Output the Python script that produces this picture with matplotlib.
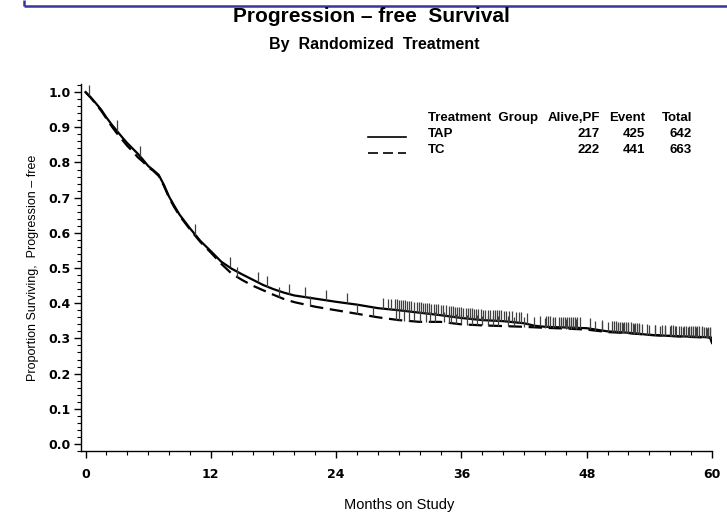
import matplotlib
matplotlib.use("Agg")
import matplotlib.pyplot as plt
from matplotlib.lines import Line2D
from matplotlib.ticker import MultipleLocator

# ---- data ----
tap_months = [0, 0.5, 1, 1.5, 2, 2.5, 3, 3.5, 4, 4.5, 5, 5.5, 6, 6.5, 7, 7.5, 8, 8.5, 9, 10, 11, 12,
              13, 14, 15, 16, 17, 18, 19, 20, 22, 24, 26, 28, 30, 32, 34, 36, 38, 40,
              42, 43, 44, 46, 48, 50, 52, 54, 56, 58, 59.8, 60]
tap_surv = [1.00, 0.985, 0.968, 0.95, 0.928, 0.908, 0.89, 0.872, 0.855, 0.84, 0.825, 0.808, 0.79,
            0.778, 0.765, 0.737, 0.703, 0.677, 0.652, 0.613, 0.577, 0.548,
            0.518, 0.498, 0.482, 0.467, 0.452, 0.44, 0.43, 0.422, 0.413, 0.404, 0.396, 0.386,
            0.38, 0.373, 0.366, 0.358, 0.352, 0.349, 0.343, 0.336, 0.333, 0.331, 0.329, 0.32,
            0.316, 0.31, 0.307, 0.305, 0.303, 0.287]

tc_months = [0, 0.5, 1, 1.5, 2, 2.5, 3, 3.5, 4, 4.5, 5, 5.5, 6, 6.5, 7, 7.5, 8, 8.5, 9, 10, 11, 12,
             13, 14, 15, 16, 17, 18, 19, 20, 22, 24, 26, 28, 30, 32, 34, 36, 38, 40,
             42, 44, 46, 48, 50, 52, 54, 56, 58, 60]
tc_surv = [1.00, 0.984, 0.966, 0.947, 0.925, 0.903, 0.883, 0.865, 0.847, 0.832, 0.815, 0.802, 0.787,
           0.776, 0.762, 0.734, 0.700, 0.673, 0.649, 0.61, 0.574, 0.544,
           0.512, 0.484, 0.466, 0.45, 0.437, 0.424, 0.412, 0.403, 0.39, 0.38, 0.37, 0.36,
           0.352, 0.347, 0.347, 0.34, 0.337, 0.335, 0.333, 0.33, 0.328, 0.325, 0.318,
           0.315, 0.31, 0.307, 0.304, 0.302]

tap_censor = [0.3, 3.0, 5.2, 10.5, 13.8, 16.5, 17.4, 19.5, 21.0, 23.0, 25.0, 28.5,
              29.0, 29.3, 29.6, 29.8, 30.0, 30.2, 30.4, 30.6, 30.8, 31.0, 31.2, 31.5, 31.7,
              31.9, 32.1, 32.3, 32.5, 32.7, 32.9, 33.1, 33.4, 33.6, 33.8, 34.0, 34.2, 34.5,
              34.8, 35.0, 35.2, 35.4, 35.6, 35.8, 36.0, 36.2, 36.4, 36.6, 36.8, 37.0, 37.2,
              37.4, 37.6, 37.9, 38.1, 38.3, 38.5, 38.7, 39.0, 39.2, 39.4, 39.6, 39.8, 40.1,
              40.3, 40.6, 40.8, 41.2, 41.5, 41.7, 42.3, 43.5, 44.1, 44.3, 44.5, 44.8, 45.0,
              45.3, 45.5, 45.7, 45.9, 46.1, 46.3, 46.5, 46.7, 46.9, 47.1, 47.4, 48.3, 49.5,
              50.4, 50.6, 50.8, 51.0, 51.2, 51.4, 51.6, 51.8, 52.0, 52.2, 52.4, 52.6, 52.8,
              53.0, 53.3, 53.8, 54.5, 55.2, 55.5, 56.1, 56.3, 56.6, 56.8, 57.0, 57.3, 57.5,
              57.8, 58.0, 58.2, 58.4, 58.6, 58.8, 59.0, 59.2, 59.4, 59.6, 59.8]
tc_censor = [14.5, 18.5, 21.5, 26.0, 27.5, 29.7, 30.0, 30.5, 31.0, 31.5, 32.0, 32.6, 33.0,
             33.5, 34.3, 34.8, 35.0, 35.5, 36.0, 36.5, 37.0, 37.5, 38.0, 38.5, 39.0, 39.5,
             40.5, 41.0, 42.0, 43.0, 44.0, 44.8, 45.5, 46.0, 46.5, 47.0, 48.8, 49.5, 50.0,
             51.0, 51.5, 52.0, 52.5, 53.0, 54.0, 54.5, 55.0, 55.5, 56.0, 56.5, 57.2, 57.7,
             58.0, 58.5, 59.0, 59.5, 59.8]

groups = ["TAP", "TC"]
alive_pf = [217, 222]
events = [425, 441]
totals = [642, 663]

x_ticks = [0, 12, 24, 36, 48, 60]
y_ticks = [0.0, 0.1, 0.2, 0.3, 0.4, 0.5, 0.6, 0.7, 0.8, 0.9, 1.0]

# ---- figure ----
W, H = 727, 515
fig = plt.figure(figsize=(W / 100, H / 100), dpi=100)
fig.patch.set_facecolor("white")

def fx(px):
    return px / W

def fy(py):
    return 1 - py / H

ax_left, ax_right, ax_top, ax_bottom = 80.5, 712, 84, 451
ax = fig.add_axes([fx(ax_left), fy(ax_bottom), fx(ax_right - ax_left), (ax_bottom - ax_top) / H])
ax.set_xlim(-0.48, 60.0)
ax.set_ylim(-0.02, 1.023)

ax.plot(tap_months, tap_surv, color="black", lw=1.6, solid_joinstyle="miter")
ax.plot(tc_months, tc_surv, color="black", lw=1.6, linestyle=(0, (6, 3)))

def interp(xs, ys, x):
    for i in range(len(xs) - 1):
        if xs[i] <= x <= xs[i + 1]:
            t = (x - xs[i]) / (xs[i + 1] - xs[i]) if xs[i + 1] != xs[i] else 0
            return ys[i] + t * (ys[i + 1] - ys[i])
    return ys[-1]

tap_c_y = [interp(tap_months, tap_surv, c) for c in tap_censor]
tc_c_y = [interp(tc_months, tc_surv, c) for c in tc_censor]
ax.vlines(tap_censor, tap_c_y, [v + 0.03 for v in tap_c_y], color="#404040", lw=0.9)
ax.vlines(tc_censor, tc_c_y, [v + 0.028 for v in tc_c_y], color="#404040", lw=0.9)

for s in ["top", "right"]:
    ax.spines[s].set_visible(False)
ax.spines["left"].set_linewidth(1.0)
ax.spines["bottom"].set_linewidth(1.0)

ax.set_xticks(x_ticks)
ax.set_xticklabels([str(v) for v in x_ticks])
ax.xaxis.set_minor_locator(MultipleLocator(2))
ax.set_yticks(y_ticks)
ax.set_yticklabels([f"{v:.1f}" for v in y_ticks])
ax.yaxis.set_minor_locator(MultipleLocator(0.02))
ax.tick_params(axis="both", which="major", length=5, width=1, direction="out", color="black")
ax.tick_params(axis="both", which="minor", length=3, width=0.8, direction="out", color="black")
ax.tick_params(axis="x", which="major", pad=7)
ax.tick_params(axis="y", which="major", pad=2)
for lab in ax.get_xticklabels() + ax.get_yticklabels():
    lab.set_fontfamily("DejaVu Sans")
    lab.set_fontweight("bold")
    lab.set_fontsize(9)

# axis titles
fig.text(fx(399), fy(505), "Months on Study", ha="center", va="center",
         fontsize=10.5, family="Liberation Sans")
fig.text(fx(33), fy(268), "Proportion Surviving,  Progression \u2013 free", ha="center", va="center",
         rotation=90, fontsize=9, family="Liberation Sans")

# titles
fig.text(fx(371), fy(17), "Progression \u2013 free  Survival", ha="center", va="center",
         fontsize=15, family="Liberation Sans", fontweight="bold")
fig.text(fx(374), fy(45), "By  Randomized  Treatment", ha="center", va="center",
         fontsize=11.5, family="Liberation Sans", fontweight="bold")

# legend table
lkw = dict(fontsize=9.5, family="Liberation Sans", fontweight="bold", va="center")
row_y = [118, 134, 150]
fig.text(fx(428), fy(row_y[0]), "Treatment  Group", ha="left", **lkw)
fig.text(fx(600), fy(row_y[0]), "Alive,PF", ha="right", **lkw)
fig.text(fx(645), fy(row_y[0]), "Event", ha="right", **lkw)
fig.text(fx(692), fy(row_y[0]), "Total", ha="right", **lkw)
styles = ["-", (0, (6, 3))]
for i, g in enumerate(groups):
    y = row_y[i + 1]
    fig.text(fx(428), fy(y), g, ha="left", **lkw)
    fig.text(fx(600), fy(y), str(alive_pf[i]), ha="right", **lkw)
    fig.text(fx(645), fy(y), str(events[i]), ha="right", **lkw)
    fig.text(fx(692), fy(y), str(totals[i]), ha="right", **lkw)
    fig.add_artist(Line2D([fx(368), fx(406)], [fy(y + 3), fy(y + 3)], color="black",
                          lw=1.2, linestyle=styles[i], transform=fig.transFigure))

# blue frame fragment at top
fig.add_artist(Line2D([fx(24), fx(24)], [fy(0), fy(5.5)], color="#36369a", lw=1.8,
                      transform=fig.transFigure, solid_capstyle="butt"))
fig.add_artist(Line2D([fx(24), fx(727)], [fy(5.5), fy(5.5)], color="#36369a", lw=1.8,
                      transform=fig.transFigure, solid_capstyle="butt"))

fig.savefig("out.png", dpi=100, facecolor="white")
